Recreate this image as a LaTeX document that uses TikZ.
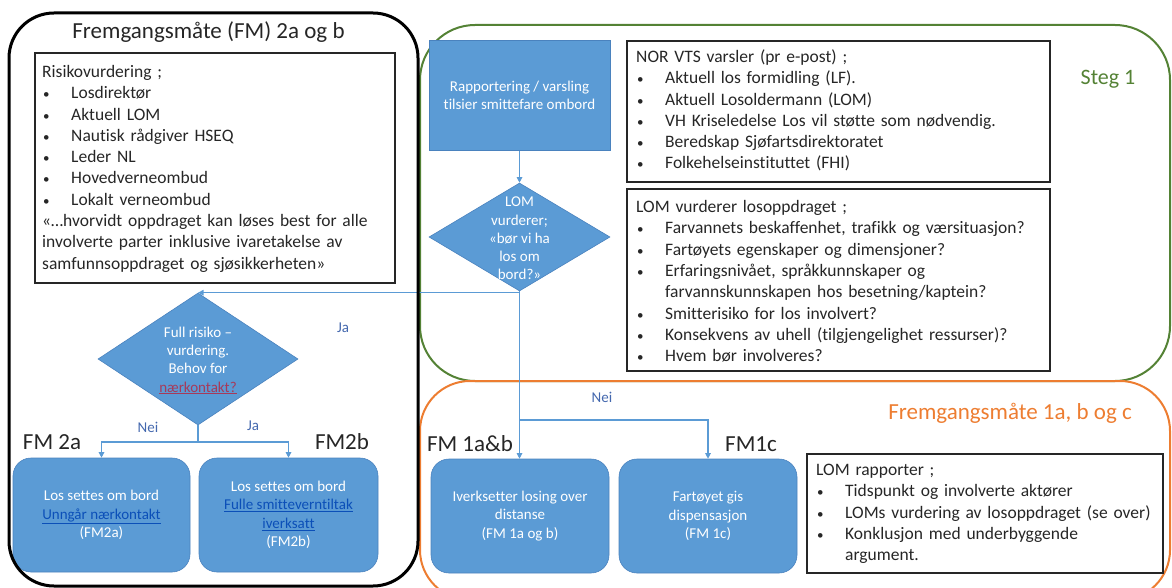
\documentclass[tikz,border=0pt]{standalone}
\usepackage{fontspec}
\setmainfont{Carlito}[Ligatures={NoCommon}]
\usetikzlibrary{arrows.meta,shapes.geometric}
\definecolor{fillblue}{HTML}{5B9BD5}
\definecolor{edgeblue}{HTML}{4A82BE}
\definecolor{linkblue}{HTML}{0B4FB8}
\definecolor{stepgreen}{HTML}{548235}
\definecolor{fmorange}{HTML}{ED7D31}
\definecolor{lblblue}{HTML}{4468AE}
\definecolor{rosetext}{HTML}{A63A5A}
\definecolor{inktext}{HTML}{262626}
\newcommand{\itm}[1]{\makebox[29pt][l]{\hspace*{1pt}{\fontsize{13}{13}\selectfont\textbullet}}#1}
\begin{document}
\begin{tikzpicture}[x=1pt,y=-1pt,
  conn/.style={draw=fillblue, line width=1.1pt, -{Triangle[length=5.5pt,width=5.5pt]}},
  plainconn/.style={draw=fillblue, line width=1.1pt},
  bluebox/.style={rectangle, rounded corners=18pt, fill=fillblue, draw=edgeblue, line width=0.6pt,
     text=white, align=center, font=\fontsize{15}{18.5}\selectfont, inner sep=0pt},
  listbox/.style={rectangle, draw=inktext, line width=1.2pt, inner sep=0pt},
  listtext/.style={anchor=base west, align=left, text width=430pt, inner sep=0pt,
     font=\fontsize{17.5}{21.3}\selectfont, text=inktext},
  dia/.style={diamond, fill=fillblue, draw=edgeblue, line width=0.6pt, inner sep=0pt},
  diatext/.style={align=center, text=white, inner sep=0pt, font=\fontsize{15}{18.3}\selectfont},
  yesno/.style={text=lblblue, inner sep=0pt, font=\fontsize{15}{18}\selectfont},
  fmlabel/.style={anchor=base, inner sep=0pt, font=\fontsize{23}{26}\selectfont, text=inktext},
  frame/.style={rectangle, inner sep=0pt}
]
\useasboundingbox (0,0) rectangle (1172,588);

% frames (green and orange)
\node[frame, draw=stepgreen, line width=2pt, rounded corners=55pt, minimum width=750pt, minimum height=356pt] (steg) at (795,203) {};
\node[frame, draw=fmorange, line width=2pt, rounded corners=50pt, minimum width=750pt, minimum height=219pt] (fmone) at (795,490.5) {};

% titles
\node[anchor=base, inner sep=0pt, font=\fontsize{23}{26}\selectfont, text=inktext] (t2) at (208.5,39) {Fremgangsmåte (FM) 2a og b};
\node[anchor=base, inner sep=0pt, font=\fontsize{22}{26}\selectfont, text=stepgreen] (t1) at (1108,85) {Steg 1};
\node[anchor=base, inner sep=0pt, font=\fontsize{23}{26}\selectfont, text=fmorange] (t3) at (1010,419) {Fremgangsmåte 1a, b og c};

% list boxes
\node[listbox, minimum width=360pt, minimum height=230pt] (riskbox) at (215,168) {};
\node[listtext] (risktext) at (42,77.5) {Risikovurdering ;\\
\itm{Losdirektør}\\
\itm{Aktuell LOM}\\
\itm{Nautisk rådgiver HSEQ}\\
\itm{Leder NL}\\
\itm{Hovedverneombud}\\
\itm{Lokalt verneombud}\\
«…hvorvidt oppdraget kan løses best for alle\\
involverte parter inklusive ivaretakelse av\\
samfunnsoppdraget og sjøsikkerheten»};

\node[listbox, minimum width=423pt, minimum height=141pt] (norbox) at (838.5,111.5) {};
\node[listtext] (nortext) at (636,62.5) {NOR VTS varsler (pr e-post) ;\\
\itm{Aktuell los formidling (LF).}\\
\itm{Aktuell Losoldermann (LOM)}\\
\itm{VH Kriseledelse Los vil støtte som nødvendig.}\\
\itm{Beredskap Sjøfartsdirektoratet}\\
\itm{Folkehelseinstituttet (FHI)}};

\node[listbox, minimum width=423pt, minimum height=182pt] (lomvbox) at (838.5,280) {};
\node[listtext] (lomvtext) at (636,212.5) {LOM vurderer losoppdraget ;\\
\itm{Farvannets beskaffenhet, trafikk og værsituasjon?}\\
\itm{Fartøyets egenskaper og dimensjoner?}\\
\itm{Erfaringsnivået, språkkunnskaper og}\\
\hspace*{29pt}farvannskunnskapen hos besetning/kaptein?\\
\itm{Smitterisiko for los involvert?}\\
\itm{Konsekvens av uhell (tilgjengelighet ressurser)?}\\
\itm{Hvem bør involveres?}};

\node[listbox, minimum width=356pt, minimum height=119pt] (rapbox) at (985,513.5) {};
\node[listtext] (raptext) at (816,475.5) {LOM rapporter ;\\
\itm{Tidspunkt og involverte aktører}\\
\itm{LOMs vurdering av losoppdraget (se over)}\\
\itm{Konklusjon med underbyggende}\\
\hspace*{29pt}argument.};

% flow shapes
\node[bluebox, rounded corners=0pt, minimum width=181pt, minimum height=110pt] (rep) at (519.5,95.5)
  {Rapportering / varsling\\tilsier smittefare ombord};
\node[dia, minimum width=181pt, minimum height=108pt] (lom) at (519.5,237) {};
\node[diatext] (lomtext) at (519.5,238.5) {LOM\\vurderer;\\«bør vi ha\\los om\\bord?»};

\node[dia, minimum width=200pt, minimum height=132pt] (risk) at (198,359) {};
\node[diatext] (risktxt) at (198,360.5) {Full risiko –\\vurdering.\\Behov for\\{\color{rosetext}\underline{nærkontakt?}}};

\node[bluebox, minimum width=177pt, minimum height=114pt] (fm2a) at (101.5,515)
  {Los settes om bord\\{\color{linkblue}\underline{Unngår nærkontakt}}\\(FM2a)};
\node[bluebox, minimum width=179pt, minimum height=114pt] (fm2b) at (288.5,515)
  {Los settes om bord\\{\color{linkblue}\underline{Fulle smitteverntiltak}}\\{\color{linkblue}\underline{iverksatt}}\\(FM2b)};
\node[bluebox, minimum width=178pt, minimum height=114pt] (fm1ab) at (520,516)
  {Iverksetter losing over\\distanse\\(FM 1a og b)};
\node[bluebox, minimum width=178pt, minimum height=114pt] (fm1c) at (708,516)
  {Fartøyet gis\\dispensasjon\\(FM 1c)};

% FM labels
\node[fmlabel] (l2a) at (52,449) {FM 2a};
\node[fmlabel] (l2b) at (342,449) {FM2b};
\node[fmlabel] (l1ab) at (470,451) {FM 1a\&b};
\node[fmlabel] (l1c) at (751,451) {FM1c};

% connectors
\draw[conn] (rep.south) -- (lom.north);
\draw[conn] (lom.south) |- (risk.north);
\draw[conn] (lom.south) -- (lom.south |- fm1ab.north);
\coordinate (splitone) at (519.5,420);
\draw[conn] (splitone) -| (fm1c.north);
\coordinate (splittwo) at (198,442);
\draw[plainconn] (risk.south) -- (splittwo);
\draw[conn] (splittwo) -| (fm2a.north);
\draw[conn] (splittwo) -| (fm2b.north);

% yes / no labels
\node[yesno] (ja1) at (343,328) {Ja};
\node[yesno] (nei1) at (602,397) {Nei};
\node[yesno] (nei2) at (148,427) {Nei};
\node[yesno] (ja2) at (253,426) {Ja};

% black frame on top
\node[frame, draw=black, line width=3pt, rounded corners=45pt, minimum width=409pt, minimum height=573pt] (fmtwo) at (213.5,299.5) {};
\end{tikzpicture}
\end{document}
